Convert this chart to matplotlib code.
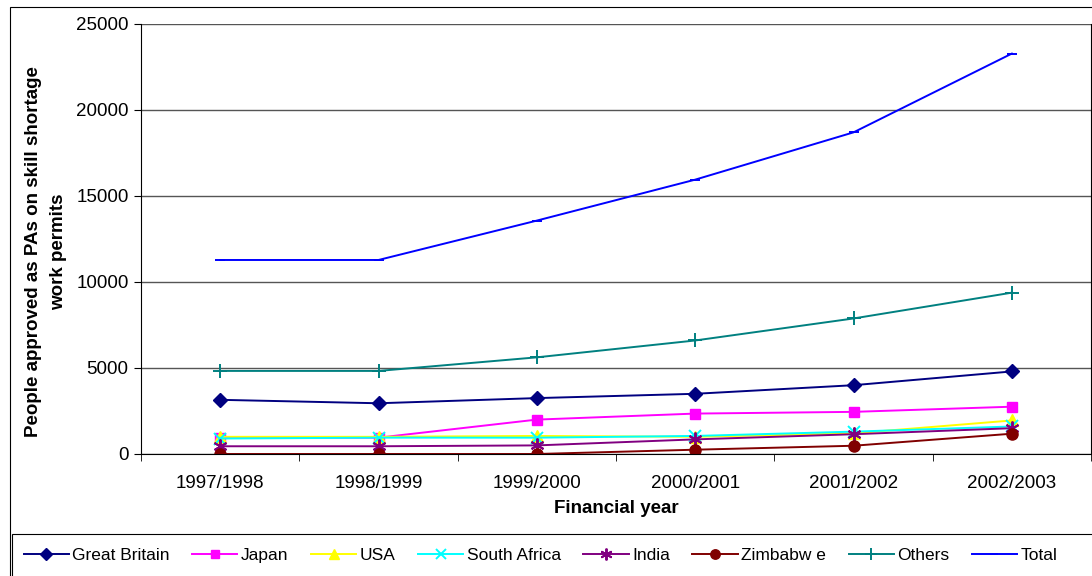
import numpy as np
import matplotlib
matplotlib.use("Agg")
import matplotlib.pyplot as plt
from matplotlib.patches import Rectangle

matplotlib.rcParams['font.family'] = ['Liberation Sans', 'DejaVu Sans']

years = ["1997/1998", "1998/1999", "1999/2000", "2000/2001", "2001/2002", "2002/2003"]

great_britain = [3150, 2950, 3250, 3500, 4000, 4800]
japan = [950, 950, 2000, 2350, 2450, 2750]
usa = [1000, 1000, 1050, 1000, 1200, 1950]
south_africa = [900, 950, 950, 1050, 1300, 1600]
india = [450, 450, 500, 850, 1150, 1500]
zimbabwe = [0, 0, 0, 250, 480, 1180]
others = [4830, 4830, 5620, 6600, 7880, 9380]
total = [11280, 11280, 13570, 15950, 18700, 23280]

series = [
    ("Great Britain", great_britain, "#000080", "D", 7.5),
    ("Japan", japan, "#FF00FF", "s", 7.5),
    ("USA", usa, "#FFFF00", "^", 8),
    ("South Africa", south_africa, "#00FFFF", "x", 8),
    ("India", india, "#800080", (6, 2, 0), 10),
    ("Zimbabw e", zimbabwe, "#800000", "o", 8),
    ("Others", others, "#008080", "+", 10),
    ("Total", total, "#0000FF", "_", 7),
]

fs = 13.5

fig = plt.figure(figsize=(10.92, 5.76), dpi=100)
W, H = 1092., 576.

# outer chart border (extends past the crop on the right / bottom)
fig.patches.append(Rectangle((10/W, -0.1), 1.2, 1 - 7/H + 0.1, transform=fig.transFigure,
                             fill=False, edgecolor="black", lw=0.8))

ax = fig.add_axes([141/W, 1 - 454/H, 950/W, 430/H])
x = np.arange(len(years))
for name, vals, col, mk, ms in series:
    mew = 1.4 if mk in ("x", "+", "_") or isinstance(mk, tuple) else 1
    ax.plot(x, vals, color=col, lw=1.4, marker=mk, ms=ms, mfc=col, mec=col, mew=mew, label=name)

ax.set_xlim(-0.5, 5.5)
ax.set_ylim(0, 25000)
ax.set_yticks(np.arange(0, 25001, 5000))
ax.yaxis.grid(True, color="#555555", lw=1)
ax.set_axisbelow(True)
ax.set_xticks(x)
ax.set_xticklabels(years)
ax.set_xticks(np.arange(-0.5, 5.6, 1), minor=True)
ax.tick_params(axis="x", which="major", length=0, pad=15, labelsize=fs)
ax.tick_params(axis="x", which="minor", length=5, direction="out")
ax.tick_params(axis="y", length=5, direction="out", labelsize=fs, pad=4)
ax.spines["top"].set_visible(False)
ax.spines["right"].set_visible(True)
ax.spines["right"].set_color("black")
ax.spines["right"].set_linewidth(0.8)

ax.set_xlabel("Financial year", fontsize=fs, fontweight="bold", labelpad=6)
ax.set_ylabel("People approved as PAs on skill shortage\nwork permits", fontsize=fs,
              fontweight="bold", linespacing=1.6)
ax.yaxis.set_label_coords(-0.078, 0.47)

# legend box
fig.patches.append(Rectangle((12/W, -0.1), 1.2, 0.1 + 1 - 534/H, transform=fig.transFigure,
                             fill=False, edgecolor="black", lw=0.8))
handles, labels = ax.get_legend_handles_labels()
fig.legend(handles, labels, loc="center left", bbox_to_anchor=(15/W, 1 - 555/H), ncol=8,
           frameon=False, fontsize=12.5, handlelength=2.6, handletextpad=0.2,
           columnspacing=1.3, borderpad=0, markerscale=0.85)

fig.savefig("out.png", dpi=100)
